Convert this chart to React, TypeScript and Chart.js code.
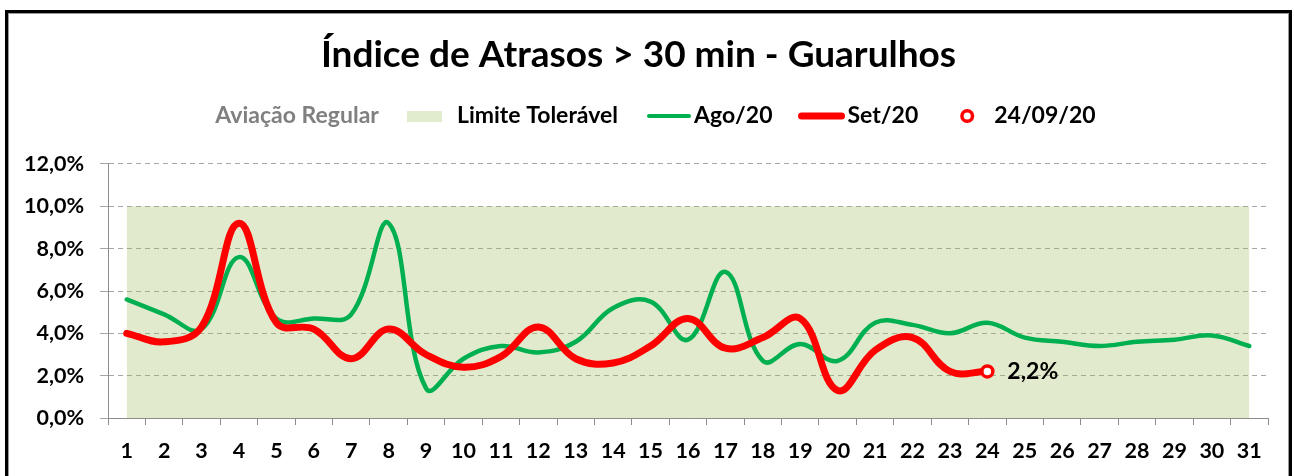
import React, { useEffect, useRef } from 'react';
import { Chart, registerables } from 'chart.js';

Chart.register(...registerables);

const FONT = 'Lato, "Open Sans", "DejaVu Sans", sans-serif';

const TITULO = 'Índice de Atrasos > 30 min - Guarulhos';

const DIAS = ['1', '2', '3', '4', '5', '6', '7', '8', '9', '10', '11', '12', '13', '14', '15', '16',
  '17', '18', '19', '20', '21', '22', '23', '24', '25', '26', '27', '28', '29', '30', '31'];

const LIMITE_TOLERAVEL = [10, 10, 10, 10, 10, 10, 10, 10, 10, 10, 10, 10, 10, 10, 10, 10,
  10, 10, 10, 10, 10, 10, 10, 10, 10, 10, 10, 10, 10, 10, 10];

const AGO_20 = [5.6, 4.9, 4.2, 7.6, 4.7, 4.7, 4.9, 9.2, 1.4, 2.8, 3.4, 3.1, 3.6, 5.2, 5.5, 3.7,
  6.9, 2.7, 3.5, 2.7, 4.5, 4.4, 4.0, 4.5, 3.8, 3.6, 3.4, 3.6, 3.7, 3.9, 3.4];

const SET_20 = [4.0, 3.6, 4.3, 9.2, 4.5, 4.2, 2.8, 4.2, 3.0, 2.4, 2.9, 4.3, 2.8, 2.6, 3.4, 4.7,
  3.3, 3.8, 4.7, 1.3, 3.2, 3.8, 2.2, 2.2];

const DESTAQUE_DIA = '24';
const DESTAQUE_VALOR = 2.2;
const DESTAQUE_ROTULO = '2,2%';

const Y_MIN = 0;
const Y_MAX = 12;
const Y_PASSO = 2;

const LEGENDA = ['Aviação Regular', 'Limite Tolerável', 'Ago/20', 'Set/20', '24/09/20'];

const COR_VERDE = '#00B050';
const COR_VERMELHO = '#FF0000';
const COR_FAIXA = 'rgba(155,187,89,0.3)';
const COR_FAIXA_LEGENDA = '#E1EBCD';
const COR_EIXO = '#8C8C8C';
const COR_GRADE = '#A6A6A6';

const CANVAS_W = 1279;
const CANVAS_H = 462;

const TICK_SIZE = 21.5;
const LEG_SIZE = 23;
const TITLE_SIZE = 37;

const legendaPlugin = {
  id: 'legendaCustom',
  afterDraw(chart: any) {
    const ctx = chart.ctx as CanvasRenderingContext2D;
    ctx.save();
    ctx.font = `bold ${LEG_SIZE}px ${FONT}`;
    ctx.textBaseline = 'middle';
    const y = 102;
    type Item = { kind: string; text?: string; color?: string; w: number };
    const items: Item[] = [
      { kind: 'text', text: LEGENDA[0], color: '#808080', w: 0 },
      { kind: 'gap', w: 28 },
      { kind: 'box', w: 35 },
      { kind: 'gap', w: 15 },
      { kind: 'text', text: LEGENDA[1], color: '#000000', w: 0 },
      { kind: 'gap', w: 28 },
      { kind: 'lineG', w: 46 },
      { kind: 'gap', w: 2 },
      { kind: 'text', text: LEGENDA[2], color: '#000000', w: 0 },
      { kind: 'gap', w: 26 },
      { kind: 'lineR', w: 46 },
      { kind: 'gap', w: 3 },
      { kind: 'text', text: LEGENDA[3], color: '#000000', w: 0 },
      { kind: 'gap', w: 42 },
      { kind: 'circle', w: 14 },
      { kind: 'gap', w: 20 },
      { kind: 'text', text: LEGENDA[4], color: '#000000', w: 0 },
    ];
    items.forEach((it) => {
      if (it.kind === 'text') it.w = ctx.measureText(it.text as string).width;
    });
    const total = items.reduce((s, it) => s + it.w, 0);
    let x = 646.5 - total / 2;
    items.forEach((it) => {
      if (it.kind === 'text') {
        ctx.fillStyle = it.color as string;
        ctx.textAlign = 'left';
        ctx.fillText(it.text as string, x, y);
      } else if (it.kind === 'box') {
        ctx.fillStyle = COR_FAIXA_LEGENDA;
        ctx.fillRect(x, y - 5, it.w, 11);
      } else if (it.kind === 'lineG' || it.kind === 'lineR') {
        ctx.strokeStyle = it.kind === 'lineG' ? COR_VERDE : COR_VERMELHO;
        ctx.lineWidth = it.kind === 'lineG' ? 4 : 7;
        ctx.lineCap = 'round';
        ctx.beginPath();
        ctx.moveTo(x + 3, y);
        ctx.lineTo(x + it.w - 3, y);
        ctx.stroke();
      } else if (it.kind === 'circle') {
        ctx.fillStyle = '#FFFFFF';
        ctx.strokeStyle = COR_VERMELHO;
        ctx.lineWidth = 3.5;
        ctx.beginPath();
        ctx.arc(x + it.w / 2, y, 5.3, 0, Math.PI * 2);
        ctx.fill();
        ctx.stroke();
      }
      x += it.w;
    });
    ctx.restore();
  },
};

const rotuloPlugin = {
  id: 'rotuloDestaque',
  afterDatasetsDraw(chart: any) {
    const meta = chart.getDatasetMeta(0);
    const idx = DIAS.indexOf(DESTAQUE_DIA);
    const el = meta.data[idx];
    if (!el) return;
    const ctx = chart.ctx as CanvasRenderingContext2D;
    ctx.save();
    ctx.font = `bold 23px ${FONT}`;
    ctx.fillStyle = '#000000';
    ctx.textAlign = 'left';
    ctx.textBaseline = 'middle';
    ctx.fillText(DESTAQUE_ROTULO, el.x + 20, el.y);
    ctx.restore();
  },
};

export default function App() {
  const ref = useRef<HTMLCanvasElement | null>(null);

  useEffect(() => {
    if (!ref.current) return;
    const destaque = DIAS.map((d) => (d === DESTAQUE_DIA ? DESTAQUE_VALOR : null));
    const lh = TITLE_SIZE * 1.2;
    const padTop = 41 - lh / 2;
    const padBottom = 150 - padTop - lh;
    const chart = new Chart(ref.current, {
      type: 'line',
      data: {
        labels: DIAS,
        datasets: [
          {
            label: LEGENDA[4],
            data: destaque,
            showLine: false,
            pointRadius: 5.5,
            pointBorderWidth: 3.5,
            pointBackgroundColor: '#FFFFFF',
            pointBorderColor: COR_VERMELHO,
            borderColor: COR_VERMELHO,
          },
          {
            label: LEGENDA[3],
            data: SET_20,
            borderColor: COR_VERMELHO,
            borderWidth: 7,
            tension: 0.4,
            pointRadius: 0,
            fill: false,
            borderCapStyle: 'round',
            borderJoinStyle: 'round',
          },
          {
            label: LEGENDA[2],
            data: AGO_20,
            borderColor: COR_VERDE,
            borderWidth: 4.5,
            tension: 0.4,
            pointRadius: 0,
            fill: false,
            borderCapStyle: 'round',
          },
          {
            label: LEGENDA[1],
            data: LIMITE_TOLERAVEL,
            borderWidth: 0,
            borderColor: 'rgba(0,0,0,0)',
            backgroundColor: COR_FAIXA,
            pointRadius: 0,
            tension: 0,
            fill: 'origin',
          },
        ],
      },
      options: {
        responsive: false,
        animation: false,
        layout: { padding: { top: 0, right: CANVAS_W - 1259, bottom: 0, left: 0 } },
        plugins: {
          legend: { display: false },
          tooltip: { enabled: false },
          title: {
            display: true,
            text: TITULO,
            color: '#000000',
            font: { family: FONT, size: TITLE_SIZE, weight: 'bold', lineHeight: 1.2 },
            padding: { top: padTop, bottom: padBottom },
          },
        },
        scales: {
          x: {
            type: 'category',
            offset: true,
            grid: {
              display: true,
              drawOnChartArea: false,
              drawTicks: true,
              tickLength: 7,
              offset: true,
              color: COR_EIXO,
            },
            border: { display: true, color: COR_EIXO, width: 1 },
            ticks: {
              color: '#000000',
              font: { family: FONT, size: TICK_SIZE, weight: 'bold' },
              padding: 13,
              maxRotation: 0,
              autoSkip: false,
            },
            afterFit: (s: any) => {
              s.height = CANVAS_H - 404;
            },
          },
          y: {
            min: Y_MIN,
            max: Y_MAX,
            grid: {
              color: COR_GRADE,
              lineWidth: 1,
              tickLength: 8,
              tickColor: COR_GRADE,
            },
            border: { display: true, color: COR_EIXO, width: 1, dash: [5, 4] },
            ticks: {
              stepSize: Y_PASSO,
              color: '#000000',
              padding: 16,
              font: { family: FONT, size: TICK_SIZE, weight: 'bold' },
              callback: (v: any) => Number(v).toFixed(1).replace('.', ',') + '%',
            },
            afterFit: (s: any) => {
              s.width = 99;
            },
          },
        },
      },
      plugins: [legendaPlugin, rotuloPlugin],
    } as any);
    return () => chart.destroy();
  }, []);

  return (
    <div
      style={{
        position: 'absolute',
        left: 5,
        top: 10,
        width: 1287,
        height: 480,
        boxSizing: 'border-box',
        border: '3px solid #000000',
        background: '#FFFFFF',
      }}
    >
      <div
        style={{
          width: CANVAS_W + 2,
          height: 475,
          boxSizing: 'border-box',
          border: '1px solid #9A9A9A',
          position: 'relative',
        }}
      >
        <canvas
          ref={ref}
          width={CANVAS_W}
          height={CANVAS_H}
          style={{ position: 'absolute', left: 0, top: 0, width: CANVAS_W, height: CANVAS_H }}
        />
      </div>
    </div>
  );
}
